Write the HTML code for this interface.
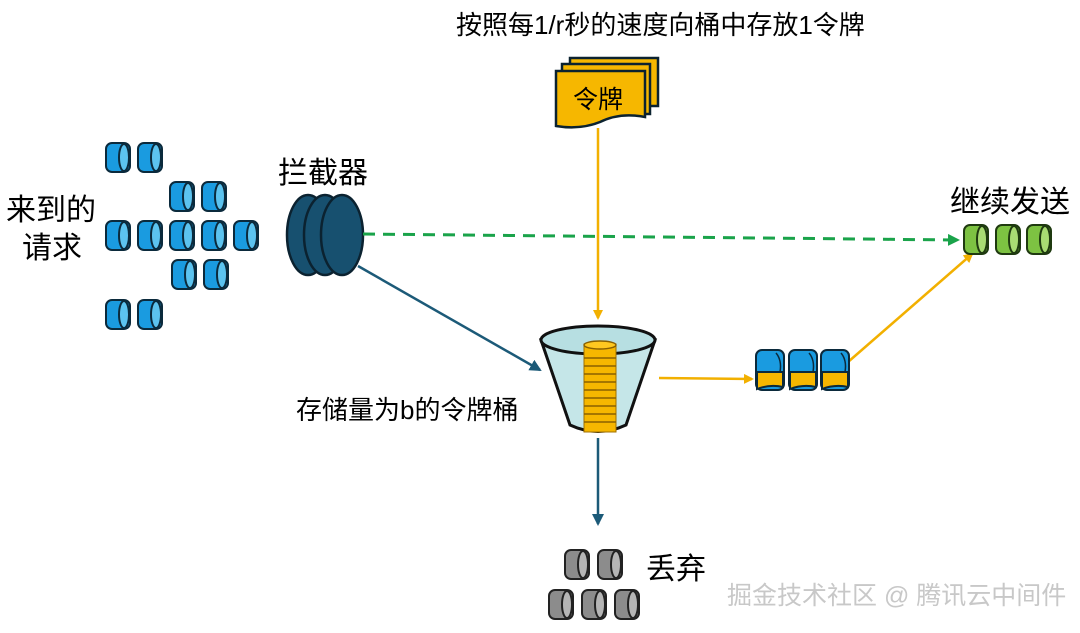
<!DOCTYPE html>
<html><head><meta charset="utf-8"><style>
body{margin:0;background:#fff;}
svg text{font-family:"Liberation Sans","Noto Sans CJK SC",sans-serif;}
</style></head><body>
<svg width="1080" height="628" viewBox="0 0 1080 628" xmlns="http://www.w3.org/2000/svg">
<defs>
<g id="cyl">
<rect x="0" y="0" width="24" height="29" rx="6" fill="#1a9be0" stroke="#0b2a3c" stroke-width="2"/>
<ellipse cx="18" cy="14.5" rx="5" ry="13.5" fill="#5cc3ef" stroke="#0b2a3c" stroke-width="2"/>
</g>
<g id="gcyl">
<rect x="0" y="0" width="24" height="29" rx="6" fill="#7dc242" stroke="#1f3a10" stroke-width="2"/>
<ellipse cx="18" cy="14.5" rx="5" ry="13.5" fill="#a9dc73" stroke="#1f3a10" stroke-width="2"/>
</g>
<g id="grcyl">
<rect x="0" y="0" width="24" height="29" rx="6" fill="#8c8c8c" stroke="#222" stroke-width="2"/>
<ellipse cx="18" cy="14.5" rx="5" ry="13.5" fill="#b5b5b5" stroke="#222" stroke-width="2"/>
</g>
<g id="mcyl">
<rect x="0" y="0" width="28" height="40" rx="6" fill="#1a9be0" stroke="#0b2a3c" stroke-width="2"/>
<path d="M1 22 H27 V37 Q14 34 1 39 Z" fill="#f6b700" stroke="#0b2a3c" stroke-width="2"/>
<path d="M20 3 Q26 10 24 22" fill="none" stroke="#0b2a3c" stroke-width="1.5"/>
</g>
<marker id="ay" markerWidth="10" markerHeight="10" refX="8" refY="5" orient="auto" markerUnits="userSpaceOnUse"><path d="M0 0 L10 5 L0 10 Z" fill="#f2b000"/></marker>
<marker id="ab" markerWidth="12" markerHeight="12" refX="10" refY="6" orient="auto" markerUnits="userSpaceOnUse"><path d="M0 0 L12 6 L0 12 Z" fill="#1c5a78"/></marker>
<marker id="ag" markerWidth="12" markerHeight="12" refX="10" refY="6" orient="auto" markerUnits="userSpaceOnUse"><path d="M0 0 L12 6 L0 12 Z" fill="#1aa34a"/></marker>
</defs>

<text x="456" y="34" font-size="26" fill="#000">按照每1/r秒的速度向桶中存放1令牌</text>
<text x="6" y="220" font-size="30" fill="#000">来到的</text>
<text x="22" y="258" font-size="30" fill="#000">请求</text>
<text x="278" y="183" font-size="30" fill="#000">拦截器</text>
<text x="950" y="212" font-size="30" fill="#000">继续发送</text>
<text x="296" y="419" font-size="26" fill="#000">存储量为b的令牌桶</text>
<text x="646" y="579" font-size="30" fill="#000">丢弃</text>
<text x="727" y="604" font-size="25" fill="#c8c8c8">掘金技术社区 @ 腾讯云中间件</text>

<use href="#cyl" x="106" y="143"/><use href="#cyl" x="138" y="143"/>
<use href="#cyl" x="170" y="182"/><use href="#cyl" x="202" y="182"/>
<use href="#cyl" x="106" y="221"/><use href="#cyl" x="138" y="221"/><use href="#cyl" x="170" y="221"/><use href="#cyl" x="202" y="221"/><use href="#cyl" x="234" y="221"/>
<use href="#cyl" x="172" y="260"/><use href="#cyl" x="204" y="260"/>
<use href="#cyl" x="106" y="300"/><use href="#cyl" x="138" y="300"/>

<g fill="#17506f" stroke="#0b2230" stroke-width="2.5">
<ellipse cx="308" cy="235" rx="21" ry="40"/>
<ellipse cx="325" cy="235" rx="21" ry="40"/>
<ellipse cx="342" cy="235" rx="21" ry="40"/>
</g>

<line x1="363" y1="234" x2="958" y2="240" stroke="#1aa34a" stroke-width="3" stroke-dasharray="12,8" marker-end="url(#ag)"/>
<line x1="358" y1="266" x2="540" y2="370" stroke="#1c5a78" stroke-width="2.5" marker-end="url(#ab)"/>
<line x1="598" y1="128" x2="598" y2="318" stroke="#f2b000" stroke-width="2.5" marker-end="url(#ay)"/>
<line x1="659" y1="378" x2="752" y2="379" stroke="#f2b000" stroke-width="2.5" marker-end="url(#ay)"/>
<line x1="848" y1="362" x2="972" y2="254" stroke="#f2b000" stroke-width="2.5" marker-end="url(#ay)"/>
<line x1="598" y1="438" x2="598" y2="524" stroke="#1c5a78" stroke-width="2.5" marker-end="url(#ab)"/>

<g fill="#f6b700" stroke="#0b2230" stroke-width="2.5">
<rect x="570" y="58" width="88" height="48"/>
<rect x="562" y="64" width="88" height="50"/>
<path d="M556 71 H645 V117 Q620 112 600 122 Q580 130 556 126 Z"/>
</g>
<text x="573" y="108" font-size="25" fill="#000">令牌</text>

<path d="M541 340 L570 425 Q598 438 626 425 L655 340 Z" fill="#c5e6e8" stroke="#111" stroke-width="3"/>
<ellipse cx="598" cy="340" rx="57" ry="14" fill="#b7dfe2" stroke="#111" stroke-width="3"/>
<rect x="584" y="344" width="32" height="88" fill="#f6b700" stroke="#a07000" stroke-width="1"/>
<ellipse cx="600" cy="345" rx="16" ry="4" fill="#ffc820" stroke="#8a6000" stroke-width="1.5"/>
<g stroke="#8a6000" stroke-width="1.5">
<line x1="584" y1="358" x2="616" y2="358"/><line x1="584" y1="366" x2="616" y2="366"/>
<line x1="584" y1="374" x2="616" y2="374"/><line x1="584" y1="382" x2="616" y2="382"/>
<line x1="584" y1="390" x2="616" y2="390"/><line x1="584" y1="398" x2="616" y2="398"/>
<line x1="584" y1="406" x2="616" y2="406"/><line x1="584" y1="414" x2="616" y2="414"/>
<line x1="584" y1="422" x2="616" y2="422"/>
</g>

<use href="#mcyl" x="756" y="350"/><use href="#mcyl" x="789" y="350"/><use href="#mcyl" x="821" y="350"/>

<use href="#gcyl" x="964" y="225"/><use href="#gcyl" x="996" y="225"/><use href="#gcyl" x="1027" y="225"/>

<use href="#grcyl" x="565" y="550"/><use href="#grcyl" x="598" y="550"/>
<use href="#grcyl" x="549" y="590"/><use href="#grcyl" x="582" y="590"/><use href="#grcyl" x="615" y="590"/>
</svg>
</body></html>
